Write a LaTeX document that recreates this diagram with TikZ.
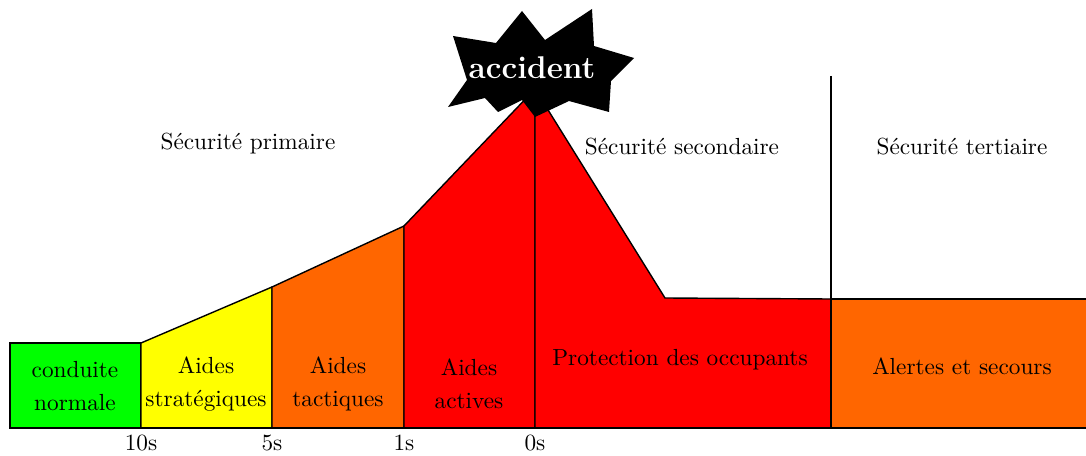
\documentclass[tikz,border=0pt]{standalone}
\begin{document}
\begin{tikzpicture}[x=0.0151cm,y=-0.0151cm,
  zone/.style={draw=black,line width=0.6pt,line join=miter},
  lbl/.style={align=center,font=\fontsize{10}{14}\selectfont,inner sep=0pt},
  tick/.style={anchor=north,inner sep=0pt,font=\fontsize{10}{12}\selectfont}]
\useasboundingbox (0,0) rectangle (1086,456);
\definecolor{cgreen}{RGB}{0,255,0}
\definecolor{cyellow}{RGB}{255,255,0}
\definecolor{corange}{RGB}{255,102,0}
\definecolor{cred}{RGB}{255,0,0}
% zones
\filldraw[zone,fill=cgreen] (10,428) -- (10,343) -- (141,343) -- (141,428) -- cycle;
\filldraw[zone,fill=cyellow] (141,428) -- (141,343) -- (272,287) -- (272,428) -- cycle;
\filldraw[zone,fill=corange] (272,428) -- (272,287) -- (404,226) -- (404,428) -- cycle;
\filldraw[zone,fill=cred] (404,428) -- (404,226) -- (535,89) -- (535,428) -- cycle;
\filldraw[zone,fill=cred] (535,428) -- (535,89) -- (665,298) -- (831,299) -- (831,428) -- cycle;
\fill[corange] (831,428) rectangle (1086,299);
\draw[zone] (831,299) -- (1086,299);
\draw[zone] (10,428) -- (1086,428);
\coordinate (vtop) at (831,76);
\coordinate (vbot) at (831,428);
\draw[zone] (vtop) -- (vbot);
% star
\fill[black] (453,36) -- (496,43) -- (522,11) -- (545,40) -- (592,9) -- (594,46)
  -- (634,58) -- (611,81) -- (609,112) -- (569,101) -- (535,117) -- (522,100)
  -- (498,112) -- (485,98) -- (448,107) -- (467,80) -- cycle;
\node[text=white,font=\fontsize{13.5}{15}\selectfont\bfseries,inner sep=0pt] (acc) at (532,68) {accident};
% headings
\node[lbl] (prim) at (248,144) {Sécurité primaire};
\node[lbl] (sec) at (682,147) {Sécurité secondaire};
\node[lbl] (ter) at (962,147) {Sécurité tertiaire};
% box labels
\node[lbl] (cn) at (75,386) {conduite\\normale};
\node[lbl] (as) at (206,384) {Aides\\stratégiques};
\node[lbl] (at) at (338,384) {Aides\\tactiques};
\node[lbl] (aa) at (469,384) {Aides\\actives};
\node[lbl] (po) at (680,360) {Protection des occupants};
\node[lbl] (al) at (962,366) {Alertes et secours};
% ticks
\node[tick] (t10) at (141,435) {10s};
\node[tick] (t5) at (272,435) {5s};
\node[tick] (t1) at (404,435) {1s};
\node[tick] (t0) at (535,435) {0s};
\end{tikzpicture}
\end{document}
